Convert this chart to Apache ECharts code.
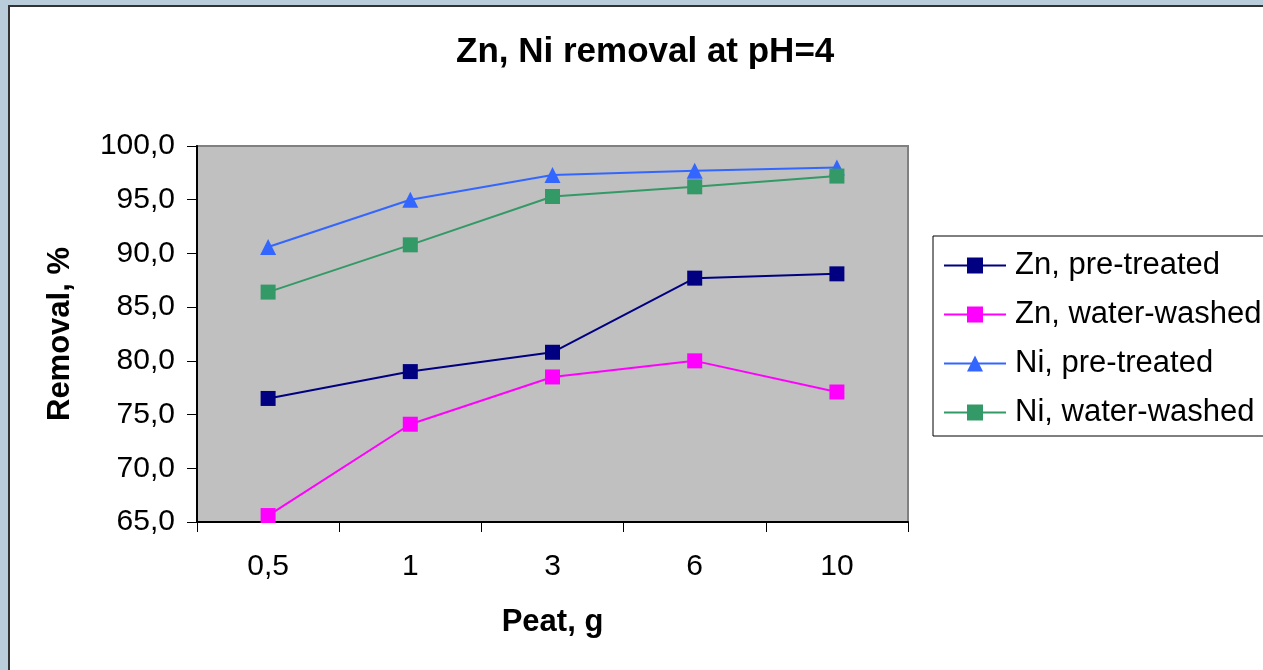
<!DOCTYPE html>
<html>
<head>
<meta charset="utf-8">
<title>Zn, Ni removal at pH=4</title>
<script src="https://cdn.jsdelivr.net/npm/echarts@6/dist/echarts.min.js"></script>
<style>
  html, body { margin: 0; padding: 0; background: #ffffff; }
  #chart { width: 1263px; height: 670px; }
</style>
</head>
<body>
<div id="chart"></div>
<script>
// Peat dose (g) on the category axis
const peatDoses = ['0,5', '1', '3', '6', '10'];

// Removal, % for each sorbent / metal combination
const znPreTreated   = [76.5, 79.0, 80.8, 87.7, 88.1];
const znWaterWashed  = [65.6, 74.1, 78.5, 80.0, 77.1];
const niPreTreated   = [90.6, 95.0, 97.3, 97.7, 98.0];
const niWaterWashed  = [86.4, 90.8, 95.3, 96.2, 97.2];

const seriesNames = ['Zn, pre-treated', 'Zn, water-washed', 'Ni, pre-treated', 'Ni, water-washed'];
const seriesColors = ['#000080', '#FF00FF', '#3366FF', '#339966'];

const fontFamily = 'Liberation Sans, Arial, sans-serif';

function lineSeries(name, data, color, symbol, size) {
  return {
    name: name,
    type: 'line',
    data: data,
    symbol: symbol,
    symbolSize: size,
    lineStyle: { color: color, width: 2 },
    itemStyle: { color: color },
    emphasis: { disabled: true },
    animation: false
  };
}

const chart = echarts.init(document.getElementById('chart'), null, { renderer: 'canvas' });

chart.setOption({
  backgroundColor: '#ffffff',
  animation: false,
  title: {
    text: 'Zn, Ni removal at pH=4',
    left: 451,
    top: 30,
    textStyle: { fontFamily: fontFamily, fontSize: 35, fontWeight: 'bold', color: '#000' }
  },
  legend: {
    orient: 'vertical',
    left: 933,
    top: 236,
    padding: [14, 30, 8, 10],
    itemGap: 18,
    itemWidth: 62,
    itemHeight: 20,
    borderColor: '#000',
    borderWidth: 1,
    selectedMode: false,
    data: seriesNames,
    textStyle: { fontFamily: fontFamily, fontSize: 31, color: '#000', padding: [0, 0, 0, 4] }
  },
  grid: {
    left: 197,
    top: 146,
    width: 711,
    height: 376,
    show: true,
    backgroundColor: '#C0C0C0',
    borderColor: '#808080',
    borderWidth: 2
  },
  xAxis: {
    type: 'category',
    data: peatDoses,
    boundaryGap: true,
    name: 'Peat, g',
    nameLocation: 'middle',
    nameGap: 85,
    nameTextStyle: { fontFamily: fontFamily, fontSize: 31, fontWeight: 'bold', color: '#000' },
    axisLine: { lineStyle: { color: '#000', width: 2 } },
    axisTick: { show: true, interval: 0, length: 10, lineStyle: { color: '#000', width: 1 } },
    axisLabel: { margin: 30, fontFamily: fontFamily, fontSize: 30, color: '#000' },
    splitLine: { show: false }
  },
  yAxis: {
    type: 'value',
    min: 65,
    max: 100,
    interval: 5,
    name: 'Removal, %',
    nameLocation: 'middle',
    nameGap: 121,
    nameTextStyle: { fontFamily: fontFamily, fontSize: 31, fontWeight: 'bold', color: '#000' },
    axisLine: { show: true, lineStyle: { color: '#000', width: 2 } },
    axisTick: { show: true, length: 10, lineStyle: { color: '#000', width: 1 } },
    axisLabel: {
      margin: 22,
      fontFamily: fontFamily,
      fontSize: 30,
      color: '#000',
      formatter: function (v) { return v.toFixed(1).replace('.', ','); }
    },
    splitLine: { show: false }
  },
  series: [
    lineSeries(seriesNames[0], znPreTreated,  seriesColors[0], 'rect', 15),
    lineSeries(seriesNames[1], znWaterWashed, seriesColors[1], 'rect', 15),
    lineSeries(seriesNames[2], niPreTreated,  seriesColors[2], 'triangle', 16),
    lineSeries(seriesNames[3], niWaterWashed, seriesColors[3], 'rect', 15)
  ],
  graphic: [
    // window frame: blue-grey margin with a dark inner edge
    { type: 'rect', left: 0, top: 0, shape: { width: 1263, height: 5 }, style: { fill: '#B9CDDB' }, silent: true },
    { type: 'rect', left: 0, top: 0, shape: { width: 8, height: 670 }, style: { fill: '#B9CDDB' }, silent: true },
    { type: 'rect', left: 8, top: 5, shape: { width: 1255, height: 2 }, style: { fill: '#333333' }, silent: true },
    { type: 'rect', left: 8, top: 5, shape: { width: 2, height: 665 }, style: { fill: '#333333' }, silent: true }
  ]
});
</script>
</body>
</html>
